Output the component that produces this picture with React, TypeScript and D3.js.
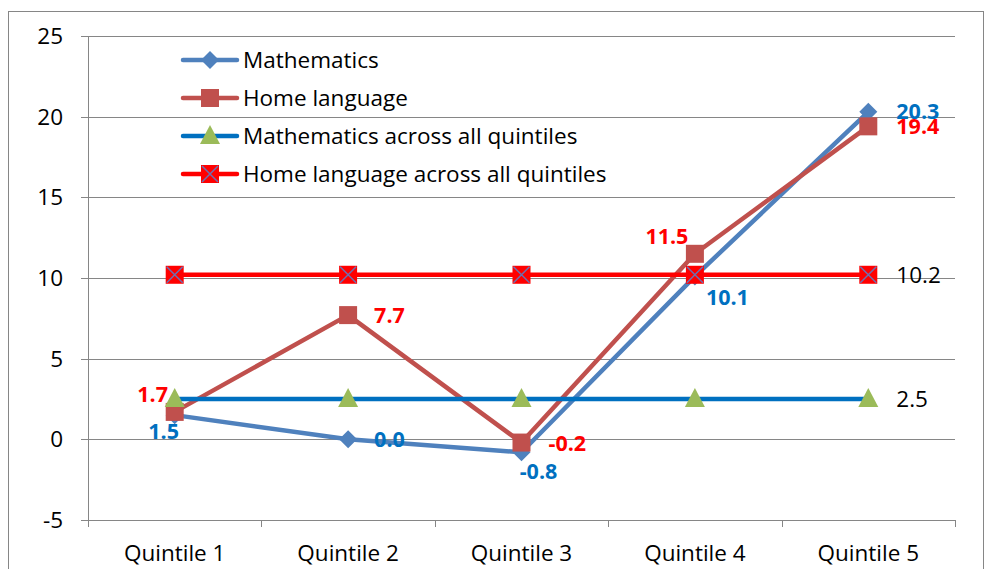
import React, { useEffect, useRef } from 'react';
import * as d3 from 'd3';

const CATEGORIES = ['Quintile 1', 'Quintile 2', 'Quintile 3', 'Quintile 4', 'Quintile 5'];
const MATH = [1.5, 0.0, -0.8, 10.1, 20.3];
const HOME = [1.7, 7.7, -0.2, 11.5, 19.4];
const MATH_ALL = [2.5, 2.5, 2.5, 2.5, 2.5];
const HOME_ALL = [10.2, 10.2, 10.2, 10.2, 10.2];
const Y_TICKS = [-5, 0, 5, 10, 15, 20, 25];
const LEGEND = ['Mathematics', 'Home language', 'Mathematics across all quintiles', 'Home language across all quintiles'];

const FONT = '"Open Sans", Lato, sans-serif';
const fmt = (v: number) => d3.format('.1f')(v).replace('\u2212', '-');

export default function App() {
    const svgRef = useRef<SVGSVGElement>(null);

    useEffect(() => {
        if (!svgRef.current) return;
        const svg = d3.select(svgRef.current);
        svg.selectAll('*').remove();

        const left = 88;
        const right = 955;
        const top = 36;
        const bottom = 520;
        const fs = '22.5px';

        // Chart border
        svg.append('rect')
            .attr('x', 8.5).attr('y', 11.5)
            .attr('width', 975).attr('height', 580)
            .attr('fill', 'white')
            .attr('stroke', '#868686');

        const x = d3.scaleBand<string>().domain(CATEGORIES).range([left, right]);
        const y = d3.scaleLinear().domain([-5, 25]).range([bottom, top]);
        const cx = (i: number) => (x(CATEGORIES[i]) as number) + x.bandwidth() / 2;

        // Gridlines
        svg.append('g').selectAll('line')
            .data(Y_TICKS.filter(t => t !== -5))
            .enter().append('line')
            .attr('x1', left).attr('x2', right)
            .attr('y1', d => Math.round(y(d)) + 0.5).attr('y2', d => Math.round(y(d)) + 0.5)
            .attr('stroke', '#868686').attr('stroke-width', 1);

        // Y axis
        const yAxis = svg.append('g');
        yAxis.append('line')
            .attr('x1', left + 0.5).attr('x2', left + 0.5)
            .attr('y1', top).attr('y2', bottom)
            .attr('stroke', '#868686');
        yAxis.selectAll('.tick')
            .data(Y_TICKS).enter().append('line')
            .attr('x1', left - 7).attr('x2', left)
            .attr('y1', d => Math.round(y(d)) + 0.5).attr('y2', d => Math.round(y(d)) + 0.5)
            .attr('stroke', '#868686');
        yAxis.selectAll('text')
            .data(Y_TICKS).enter().append('text')
            .attr('x', 63).attr('y', d => y(d))
            .attr('dy', '0.35em')
            .attr('text-anchor', 'end')
            .style('font-family', FONT).style('font-size', fs)
            .attr('fill', '#000')
            .text(d => d);

        // X axis at -5
        const xAxis = svg.append('g');
        xAxis.append('line')
            .attr('x1', left).attr('x2', right)
            .attr('y1', Math.round(y(-5)) + 0.5).attr('y2', Math.round(y(-5)) + 0.5)
            .attr('stroke', '#868686');
        const bounds = CATEGORIES.map(c => x(c) as number).concat([right]);
        xAxis.selectAll('.tk')
            .data(bounds).enter().append('line')
            .attr('x1', d => Math.round(d) + 0.5).attr('x2', d => Math.round(d) + 0.5)
            .attr('y1', y(-5)).attr('y2', y(-5) + 7)
            .attr('stroke', '#868686');
        xAxis.selectAll('text')
            .data(CATEGORIES).enter().append('text')
            .attr('x', (d, i) => cx(i)).attr('y', 553)
            .attr('dy', '0.35em')
            .attr('text-anchor', 'middle')
            .style('font-family', FONT).style('font-size', fs)
            .text(d => d);

        const line = d3.line<number>().x((d, i) => cx(i)).y(d => y(d));

        const diamond = (g: any, px: number, py: number, color: string) => {
            g.append('path')
                .attr('d', `M${px},${py - 9}L${px + 9},${py}L${px},${py + 9}L${px - 9},${py}Z`)
                .attr('fill', color);
        };
        const square = (g: any, px: number, py: number, color: string) => {
            g.append('rect')
                .attr('x', px - 9).attr('y', py - 9)
                .attr('width', 18).attr('height', 18)
                .attr('fill', color);
        };
        const triangle = (g: any, px: number, py: number, color: string) => {
            g.append('path')
                .attr('d', `M${px},${py - 11}L${px + 10},${py + 8}L${px - 10},${py + 8}Z`)
                .attr('fill', color);
        };
        const xsquare = (g: any, px: number, py: number) => {
            g.append('rect')
                .attr('x', px - 9).attr('y', py - 9)
                .attr('width', 18).attr('height', 18)
                .attr('fill', '#FF0000');
            g.append('path')
                .attr('d', `M${px - 8},${py - 8}L${px + 8},${py + 8}M${px + 8},${py - 8}L${px - 8},${py + 8}`)
                .attr('stroke', '#6f6fb0').attr('stroke-width', 1.5);
        };

        const series = [
            { data: MATH, color: '#4F81BD', marker: (g: any, px: number, py: number) => diamond(g, px, py, '#4F81BD') },
            { data: HOME, color: '#C0504D', marker: (g: any, px: number, py: number) => square(g, px, py, '#C0504D') },
            { data: MATH_ALL, color: '#0070C0', marker: (g: any, px: number, py: number) => triangle(g, px, py, '#9BBB59') },
            { data: HOME_ALL, color: '#FF0000', marker: (g: any, px: number, py: number) => xsquare(g, px, py) },
        ];

        series.forEach(s => {
            const g = svg.append('g');
            g.append('path')
                .attr('d', line(s.data))
                .attr('fill', 'none')
                .attr('stroke', s.color)
                .attr('stroke-width', 4.5)
                .attr('stroke-linejoin', 'round');
            s.data.forEach((v, i) => s.marker(g, cx(i), y(v)));
        });

        // Data labels
        const labelG = svg.append('g')
            .style('font-family', FONT).style('font-size', '21.5px').style('font-weight', 'bold');
        // [dx, dy, anchor] per point
        const mathPos: [number, number, string][] = [
            [-11, 16, 'middle'], [26, 0, 'start'], [17, 19, 'middle'], [11, 21, 'start'], [28, 0, 'start'],
        ];
        const homePos: [number, number, string][] = [
            [-22, -17, 'middle'], [26, 0, 'start'], [27, 1, 'start'], [-28, -17, 'middle'], [28, 0, 'start'],
        ];
        MATH.forEach((v, i) => {
            labelG.append('text')
                .attr('x', cx(i) + mathPos[i][0]).attr('y', y(v) + mathPos[i][1])
                .attr('dy', '0.35em').attr('text-anchor', mathPos[i][2])
                .attr('fill', '#0070C0')
                .text(fmt(v));
        });
        HOME.forEach((v, i) => {
            labelG.append('text')
                .attr('x', cx(i) + homePos[i][0]).attr('y', y(v) + homePos[i][1])
                .attr('dy', '0.35em').attr('text-anchor', homePos[i][2])
                .attr('fill', '#FF0000')
                .text(fmt(v));
        });
        // End labels for the across-all series
        [MATH_ALL, HOME_ALL].forEach(arr => {
            const last = arr.length - 1;
            svg.append('text')
                .attr('x', cx(last) + 28).attr('y', y(arr[last]))
                .attr('dy', '0.35em')
                .style('font-family', FONT).style('font-size', fs)
                .attr('fill', '#000')
                .text(fmt(arr[last]));
        });

        // Legend
        const leg = svg.append('g');
        LEGEND.forEach((name, i) => {
            const ly = 60 + i * 38;
            const s = series[i];
            const row = leg.append('g');
            row.append('line')
                .attr('x1', 183).attr('x2', 237)
                .attr('y1', ly).attr('y2', ly)
                .attr('stroke', s.color).attr('stroke-width', 4.5)
                .attr('stroke-linecap', 'round');
            s.marker(row, 210, ly);
            row.append('text')
                .attr('x', 243).attr('y', ly)
                .attr('dy', '0.35em')
                .style('font-family', FONT).style('font-size', fs)
                .text(name);
        });
    }, []);

    return <svg ref={svgRef} width={984} height={569} style={{ position: 'absolute', left: 0, top: 0 }} />;
}
